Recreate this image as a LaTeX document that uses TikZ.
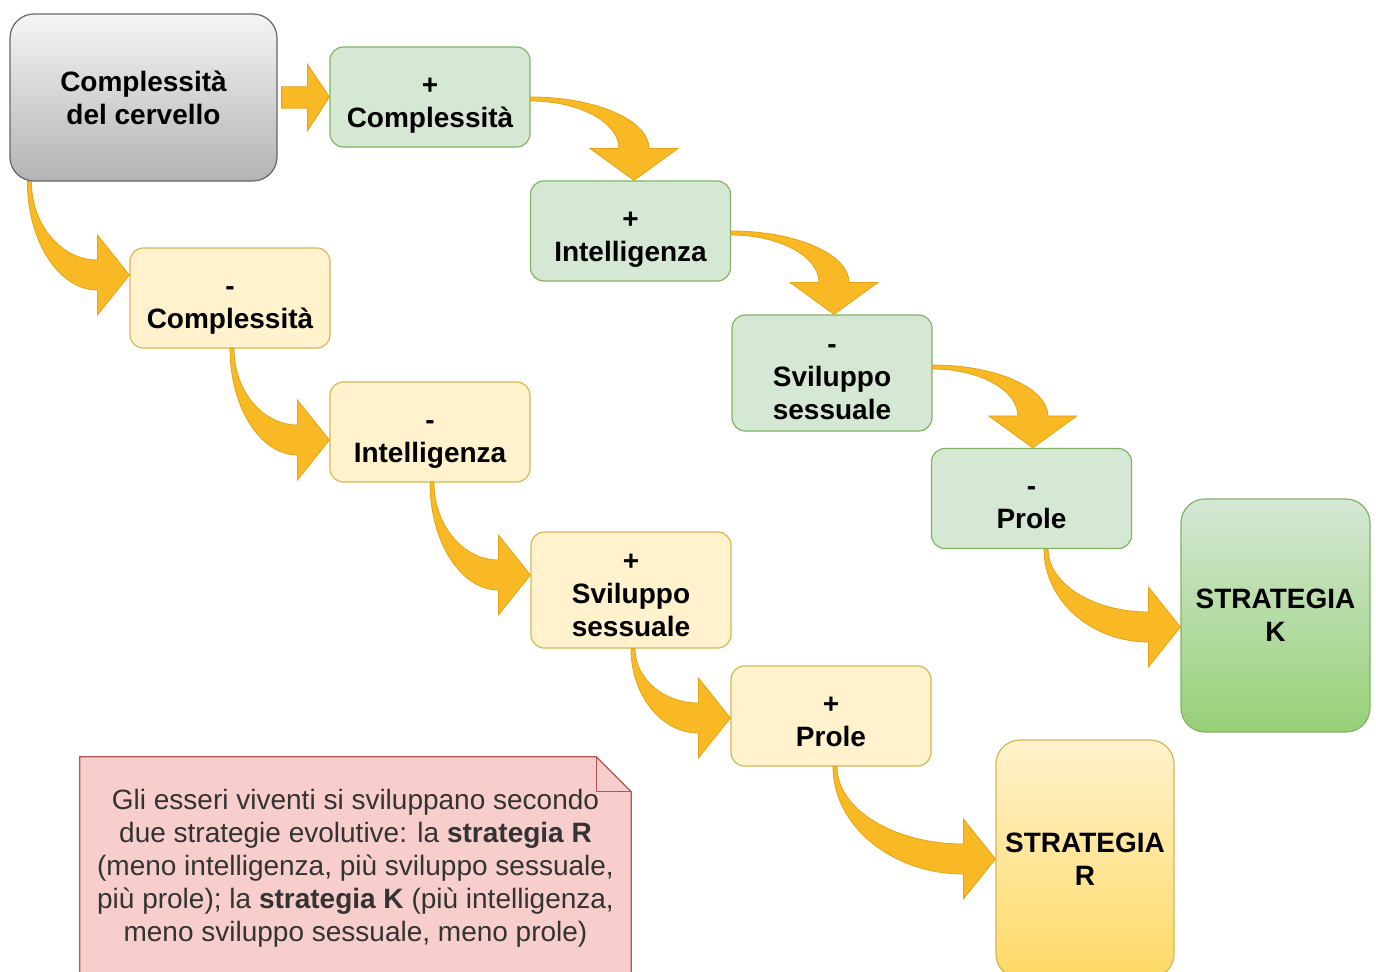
\documentclass[tikz,border=0pt]{standalone}
\usepackage{fontspec}
\setmainfont{Liberation Sans}
\usetikzlibrary{calc}
\pgfdeclarelayer{background}
\pgfsetlayers{background,main}
\definecolor{grayt}{HTML}{F5F5F5}
\definecolor{grayb}{HTML}{B3B3B3}
\definecolor{grayl}{HTML}{666666}
\definecolor{gfill}{HTML}{D5E8D4}
\definecolor{gline}{HTML}{82B366}
\definecolor{kbot}{HTML}{97D077}
\definecolor{yfill}{HTML}{FFF2CC}
\definecolor{yline}{HTML}{D6B656}
\definecolor{rbot}{HTML}{FFD966}
\definecolor{nfill}{HTML}{F8CECC}
\definecolor{nline}{HTML}{B85450}
\definecolor{arrf}{HTML}{F9B924}
\definecolor{arrl}{HTML}{E3A318}
\definecolor{ntext}{HTML}{333333}
\newcommand\topst{\rule{0pt}{26.25pt}}
\newcommand\botst{\rule[-6pt]{0pt}{6pt}}
% down-then-right tapered arrow
\newcommand\arrDR[2]{%
\path[flexarr] let \p1=(#1), \p2=(#2) in
 (\x1,\y1) .. controls (\x1,{\y1-0.55*(\y1-\y2+11.25pt)}) and ({\x2-24pt-0.55*(\x2-24pt-\x1)},{\y2-11.25pt}) .. ({\x2-24pt},{\y2-11.25pt})
 -- ({\x2-24pt},{\y2-30pt}) -- (\x2,\y2) -- ({\x2-24pt},{\y2+30pt}) -- ({\x2-24pt},{\y2+11.25pt})
 .. controls ({\x2-24pt-0.55*(\x2-24pt-\x1-3pt)},{\y2+11.25pt}) and ({\x1+3pt},{\y1-0.55*(\y1-\y2-11.25pt)}) .. ({\x1+3pt},\y1) -- cycle;}
% right-then-down tapered arrow
\newcommand\arrRD[2]{%
\path[flexarr] let \p1=(#1), \p2=(#2) in
 (\x1,\y1) .. controls ({\x1+0.55*(\x2+11.25pt-\x1)},\y1) and ({\x2+11.25pt},{\y2+24pt+0.55*(\y1-\y2-24pt)}) .. ({\x2+11.25pt},{\y2+24pt})
 -- ({\x2+33pt},{\y2+24pt}) -- (\x2,\y2) -- ({\x2-33pt},{\y2+24pt}) -- ({\x2-11.25pt},{\y2+24pt})
 .. controls ({\x2-11.25pt},{\y2+24pt+0.55*(\y1-3pt-\y2-24pt)}) and ({\x1+0.55*(\x2-11.25pt-\x1)},{\y1-3pt}) .. (\x1,{\y1-3pt}) -- cycle;}
% straight arrow
\newcommand\arrS[2]{%
\path[flexarr] let \p1=(#1), \p2=(#2) in
 (\x1,{\y1+8pt}) -- ({\x2-16.5pt},{\y1+8pt}) -- ({\x2-16.5pt},{\y1+25pt}) -- (\x2,\y2)
 -- ({\x2-16.5pt},{\y1-25pt}) -- ({\x2-16.5pt},{\y1-8pt}) -- (\x1,{\y1-8pt}) -- cycle;}
\begin{document}
\begin{tikzpicture}[x=0.75pt,y=-0.75pt,
  flexarr/.style={fill=arrf, draw=arrl, line width=0.6pt, line join=miter},
  box/.style={rounded corners=10pt, line width=0.9pt, align=center, inner sep=0pt,
    font=\bfseries\fontsize{21}{24.75}\selectfont, minimum width=150pt, minimum height=75pt},
  gbox/.style={box, fill=gfill, draw=gline},
  ybox/.style={box, fill=yfill, draw=yline},
  tall/.style={minimum height=87pt},
  bigbox/.style={box, rounded corners=18pt}]
\useasboundingbox (0,0) rectangle (1376,971);
\clip (0,0) rectangle (1376,971);
\begin{pgfonlayer}{background}
\fill[white] (0,0) rectangle (1376,971);
\end{pgfonlayer}

\node[bigbox, minimum width=200.25pt, minimum height=125.25pt, top color=grayt, bottom color=grayb, draw=grayl] (n1) at (143.5,97.5) {Complessità\\del cervello};

\node[gbox] (n2) at (430,97) {\topst+\\Complessità\botst};
\node[gbox] (n3) at (630.5,231) {\topst+\\Intelligenza\botst};
\node[gbox, tall] (n4) at (832,373) {\topst-\\Sviluppo\\sessuale\botst};
\node[gbox] (n5) at (1031.5,498.5) {\topst-\\Prole\botst};
\node[bigbox, minimum width=141.75pt, minimum height=174.75pt, top color=gfill, bottom color=kbot, draw=gline] (n6) at (1275.5,615.5) {STRATEGIA\\K};

\node[ybox] (n7) at (230,298) {\topst-\\Complessità\botst};
\node[ybox] (n8) at (430,432) {\topst-\\Intelligenza\botst};
\node[ybox, tall] (n9) at (631,590) {\topst+\\Sviluppo\\sessuale\botst};
\node[ybox] (n10) at (831,716) {\topst+\\Prole\botst};
\node[bigbox, minimum width=133.5pt, minimum height=178.5pt, top color=yfill, bottom color=rbot, draw=yline] (n11) at (1085,859) {STRATEGIA\\R};

\node[align=center, inner sep=0pt, minimum width=413.25pt, minimum height=166.5pt, text=ntext,
  font=\fontsize{21}{24.75}\selectfont] (n12) at (355.5,868)
  {Gli esseri viventi si sviluppano secondo\\
   due strategie evolutive: la \textbf{strategia R}\\
   (meno intelligenza, più sviluppo sessuale,\\
   più prole); la \textbf{strategia K} (più intelligenza,\\
   meno sviluppo sessuale, meno prole)};
\begin{pgfonlayer}{background}
\path[fill=nfill, draw=nline, line width=0.9pt] (n12.north west) -- ([xshift=-26.25pt]n12.north east) -- ([yshift=-26.25pt]n12.north east) -- (n12.south east) -- (n12.south west) -- cycle;
\draw[nline, line width=0.9pt] ([xshift=-26.25pt]n12.north east) -- ([xshift=-26.25pt,yshift=-26.25pt]n12.north east) -- ([yshift=-26.25pt]n12.north east);
\end{pgfonlayer}

% arrows
\arrS{[xshift=3pt]n1.east}{n2.west}
\arrRD{n2.east}{[xshift=2.6pt]n3.north}
\arrRD{n3.east}{[xshift=1.5pt]n4.north}
\arrRD{[yshift=6pt]n4.east}{[xshift=1pt]n5.north}
\arrDR{[xshift=9.4pt]n5.south}{[yshift=-8.6pt]n6.west}

\arrDR{[xshift=13.5pt]n1.south west}{[yshift=17.25pt]n7.west}
\arrDR{n7.south}{[yshift=-6pt]n8.west}
\arrDR{n8.south}{[yshift=11.25pt]n9.west}
\arrDR{n9.south}{[yshift=-1.5pt]n10.west}
\arrDR{[xshift=1.5pt]n10.south}{n11.west}
\end{tikzpicture}
\end{document}
